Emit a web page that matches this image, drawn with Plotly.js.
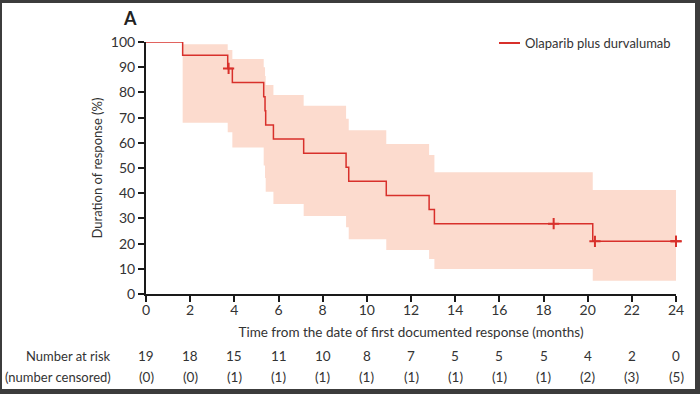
<!DOCTYPE html>
<html>
<head>
<meta charset="utf-8">
<script src="https://cdn.plot.ly/plotly-3.0.1.min.js"></script>
<style>
html,body{margin:0;padding:0;background:#fff;}
#wrap{position:relative;width:700px;height:394px;overflow:hidden;}
#chart{position:absolute;left:0;top:0;width:700px;height:394px;}
#frame{position:absolute;left:0;top:0;width:700px;height:394px;box-sizing:border-box;
  border-style:solid;border-color:#3c3c3c;border-width:3px 5px 5px 2px;pointer-events:none;}
</style>
</head>
<body>
<div id="wrap"><div id="chart"></div><div id="frame"></div></div>
<script>
// Kaplan-Meier step curve (months, %)
const kmTimes    = [0, 1.66, 3.70, 3.91, 5.33, 5.39, 5.42, 5.77, 7.14, 9.06, 9.18, 10.88, 12.82, 13.06, 20.23, 24];
const kmSurvival = [100, 94.7, 89.5, 83.9, 78.3, 72.7, 67.1, 61.5, 55.9, 50.3, 44.7, 39.1, 33.5, 27.9, 20.9, 20.9];
// 95% CI band
const ciTimes = [1.66, 3.70, 3.91, 5.33, 5.39, 5.42, 5.77, 7.14, 9.06, 9.18, 10.88, 12.82, 13.06, 20.23, 24];
const ciUpper = [99.1, 96.8, 93.3, 90.0, 86.5, 82.9, 79.0, 74.7, 69.5, 65.0, 59.5, 55.2, 48.3, 41.3, 41.3];
const ciLower = [68.0, 64.2, 58.1, 51.0, 46.0, 40.6, 35.7, 31.0, 26.5, 21.7, 17.5, 13.9, 9.9, 5.3, 5.3];
// censored observations
const censorTimes  = [3.74, 18.46, 20.33, 24, 24];
const censorValues = [89.5, 27.9, 20.9, 20.9, 20.9];
// risk table
const riskTimes    = [0, 2, 4, 6, 8, 10, 12, 14, 16, 18, 20, 22, 24];
const numberAtRisk = ['19','18','15','11','10','8','7','5','5','5','4','2','0'];
const numberCensored = ['(0)','(0)','(1)','(1)','(1)','(1)','(1)','(1)','(1)','(1)','(2)','(3)','(5)'];
const seriesName = 'Olaparib plus durvalumab';

const FONT = 'Lato, "Open Sans", sans-serif';
const RED = '#d8302b';
const BAND = 'rgb(252,219,206)';
const TXT = '#333';

const traces = [
  {x: ciTimes, y: ciLower, mode: 'lines', line: {shape: 'hv', width: 0, color: BAND}, hoverinfo: 'skip', showlegend: false},
  {x: ciTimes, y: ciUpper, mode: 'lines', line: {shape: 'hv', width: 0, color: BAND}, fill: 'tonexty', fillcolor: BAND, hoverinfo: 'skip', showlegend: false},
  {x: kmTimes, y: kmSurvival, mode: 'lines', name: seriesName, line: {shape: 'hv', width: 1.5, color: RED}, showlegend: false},
  {x: censorTimes, y: censorValues, mode: 'markers', marker: {symbol: 'cross-thin', size: 8, line: {width: 2, color: RED}, color: RED}, cliponaxis: false, showlegend: false}
];

const annotations = [];
riskTimes.forEach((t, i) => {
  annotations.push({x: t, xref: 'x', y: -0.246, yref: 'paper', text: numberAtRisk[i], showarrow: false, xanchor: 'center', yanchor: 'middle', font: {family: FONT, size: 13.5, color: TXT}});
  annotations.push({x: t, xref: 'x', y: -0.329, yref: 'paper', text: numberCensored[i], showarrow: false, xanchor: 'center', yanchor: 'middle', font: {family: FONT, size: 13.5, color: TXT}});
});
annotations.push({x: -0.0623, xref: 'paper', y: -0.246, yref: 'paper', text: 'Number at risk', showarrow: false, xanchor: 'right', yanchor: 'middle', font: {family: FONT, size: 13, color: TXT}});
annotations.push({x: -0.0623, xref: 'paper', y: -0.329, yref: 'paper', text: '(number censored)', showarrow: false, xanchor: 'right', yanchor: 'middle', font: {family: FONT, size: 13, color: TXT}});
annotations.push({x: -0.03, xref: 'paper', y: 1.095, yref: 'paper', text: '<b>A</b>', showarrow: false, xanchor: 'center', yanchor: 'middle', font: {family: FONT, size: 18, color: '#222'}});
annotations.push({x: 0.711, xref: 'paper', y: 0.996, yref: 'paper', text: seriesName, showarrow: false, xanchor: 'left', yanchor: 'middle', font: {family: FONT, size: 13, color: TXT}});

const layout = {
  width: 700, height: 394,
  margin: {l: 146, r: 24, t: 42, b: 100},
  paper_bgcolor: '#fff', plot_bgcolor: '#fff',
  font: {family: FONT, size: 14, color: TXT},
  showlegend: false,
  xaxis: {
    range: [0, 24], tickmode: 'array', tickvals: riskTimes, ticktext: riskTimes.map(String),
    showgrid: false, zeroline: false, showline: true, linecolor: '#1a1a1a', linewidth: 2,
    ticks: 'outside', ticklen: 6, tickwidth: 2, tickcolor: '#1a1a1a', ticklabelstandoff: -4,
    tickfont: {family: FONT, size: 14, color: TXT},
    title: {text: 'Time from the date of first documented response (months)', font: {family: FONT, size: 13.5, color: TXT}, standoff: 11},
    automargin: false, fixedrange: true
  },
  yaxis: {
    range: [0, 100], tickmode: 'linear', tick0: 0, dtick: 10,
    showgrid: false, zeroline: false, showline: true, linecolor: '#1a1a1a', linewidth: 2,
    ticks: 'outside', ticklen: 6, tickwidth: 2, tickcolor: '#1a1a1a',
    tickfont: {family: FONT, size: 14, color: TXT},
    title: {text: 'Duration of response (%)', font: {family: FONT, size: 13, color: TXT}, standoff: 5},
    automargin: false, fixedrange: true
  },
  shapes: [
    {type: 'line', xref: 'paper', yref: 'paper', x0: 0.666, x1: 0.7057, y0: 0.996, y1: 0.996, line: {color: RED, width: 2}}
  ],
  annotations: annotations
};

Plotly.newPlot('chart', traces, layout, {displayModeBar: false, staticPlot: true});
</script>
</body>
</html>
